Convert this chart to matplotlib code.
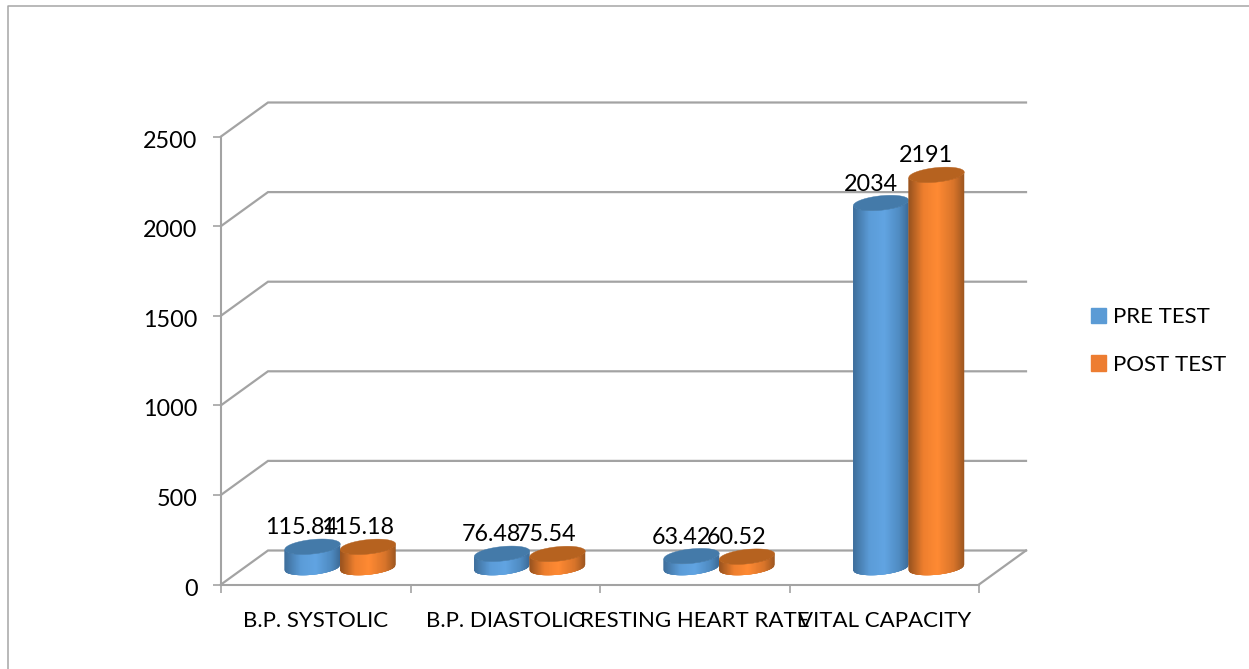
import numpy as np
from matplotlib import pyplot as plt
from matplotlib.collections import PolyCollection
from matplotlib.colors import LinearSegmentedColormap
from matplotlib.lines import Line2D
from matplotlib.patches import Patch, Polygon
from matplotlib.transforms import ScaledTranslation

plt.rcParams['font.family'] = ['Lato', 'DejaVu Sans']

categories = ["B.P. SYSTOLIC", "B.P. DIASTOLIC", "RESTING HEART RATE", "VITAL CAPACITY"]
pre_test = [115.84, 76.48, 63.42, 2034]
post_test = [115.18, 75.54, 60.52, 2191]
y_ticks = [0, 500, 1000, 1500, 2000, 2500]

W, H = 1249, 669
GREY = '#a3a3a3'
PX_X = 189.5      # pixels per category
PX_Y = 448 / 2500  # pixels per unit
DEPTH_X = 47 / PX_X
DEPTH_Y = 34 / PX_Y
BAR_W = 55.5 / PX_X

blue_map = LinearSegmentedColormap.from_list(
    'b', [(0, '#3c6a96'), (0.18, '#4f8bc2'), (0.45, '#61a4e2'), (0.72, '#5b9cd8'), (1, '#3f6f9c')])
orange_map = LinearSegmentedColormap.from_list(
    'o', [(0, '#9c5620'), (0.2, '#d8742a'), (0.5, '#ff8a33'), (0.75, '#ee7f2e'), (1, '#99531f')])


def ellipse_pts(cx, cy, t):
    # tilted ellipse, worked out in pixels then put back to data units
    a, b, th = 27.9, 7.2, np.radians(6)
    ex = a * np.cos(t)
    ey = b * np.sin(t)
    return cx + (ex * np.cos(th) - ey * np.sin(th)) / PX_X, cy + (ex * np.sin(th) + ey * np.cos(th)) / PX_Y


def cylinder(ax, x, value, cmap, cap, z):
    cx = x + DEPTH_X / 2 + 1 / PX_X
    base, top = DEPTH_Y / 2, value + DEPTH_Y / 2
    u = np.linspace(0, 1, 61)
    t = -np.arccos(1 - 2 * u)
    bx, by = ellipse_pts(cx, base, t)
    tx, ty = ellipse_pts(cx, top, t)
    strips, cols = [], []
    n = len(u) - 1
    for i in range(n):
        # each strip runs under the next few so no seams show
        j = min(i + 4, n)
        strips.append(list(zip(bx[i:j + 1], by[i:j + 1])) + list(zip(tx[i:j + 1][::-1], ty[i:j + 1][::-1])))
        cols.append(cmap((u[i] + u[i + 1]) / 2))
    ax.add_collection(PolyCollection(strips, facecolors=cols, edgecolors='none', zorder=z, clip_on=False))
    cx_pts, cy_pts = ellipse_pts(cx, top, np.linspace(0, 2 * np.pi, 80))
    ax.add_patch(Polygon(np.column_stack([cx_pts, cy_pts]), closed=True, facecolor=cap,
                         edgecolor=cap, linewidth=0.3, zorder=z + 0.1, clip_on=False))


def main():
    fig = plt.figure(figsize=(W / 100, H / 100), dpi=100)
    ax = fig.add_axes([221 / W, (H - 584.5) / H, 758 / W, 448 / H])
    ax.set_xlim(0, 4)
    ax.set_ylim(0, 2500)

    for s in ['top', 'right']:
        ax.spines[s].set_visible(False)
    for s in ['left', 'bottom']:
        ax.spines[s].set_color(GREY)
        ax.spines[s].set_linewidth(1.5)

    ax.set_yticks(y_ticks)
    ax.set_xticks(range(5))
    ax.set_xticklabels([])
    ax.set_xticks(np.arange(4) + 0.5, categories, minor=True)
    ax.tick_params(axis='y', length=6, width=1.2, color=GREY, labelsize=16.8, pad=11)
    ax.tick_params(axis='x', which='major', length=6, width=1.2, color=GREY)
    ax.tick_params(axis='x', which='minor', length=0, labelsize=16, pad=19)
    down = ScaledTranslation(0, -2.5 / 100, fig.dpi_scale_trans)
    for lab in ax.get_yticklabels():
        lab.set_transform(lab.get_transform() + down)

    # side and back walls
    for v in y_ticks:
        ax.plot([0, DEPTH_X, 4 + DEPTH_X], [v, v + DEPTH_Y, v + DEPTH_Y], color=GREY, lw=1.6,
                clip_on=False, zorder=1, solid_joinstyle='miter')
    ax.plot([4, 4 + DEPTH_X], [0, DEPTH_Y], color=GREY, lw=1.6, clip_on=False, zorder=1)

    for i in range(len(categories)):
        x_pre = i + 0.5 - BAR_W / 2
        x_post = i + 0.5 + BAR_W / 2
        cylinder(ax, x_pre, pre_test[i], blue_map, '#447aa9', 3)
        cylinder(ax, x_post, post_test[i], orange_map, '#b6621f', 4)
        for x, v in [(x_pre, pre_test[i]), (x_post, post_test[i])]:
            ax.annotate(str(v), xy=(x, v), xytext=(14, 36), textcoords='offset pixels',
                        ha='center', va='center', fontsize=16.8, color='black',
                        annotation_clip=False, zorder=6)

    handles = [Patch(color='#5b9bd5', label='PRE TEST'), Patch(color='#ed7d31', label='POST TEST')]
    fig.legend(handles=handles, loc='center left', bbox_to_anchor=(1091 / W, (H - 341) / H),
               frameon=False, fontsize=16, handlelength=0.68, handleheight=0.68,
               handletextpad=0.3, labelspacing=1.25, borderaxespad=0, borderpad=0)

    # outer frame, only left and top show
    fig.add_artist(Line2D([8 / W, 8 / W, 1], [0, (H - 6) / H, (H - 6) / H], color='#a6a6a6', lw=1.1))

    fig.savefig('out.png', dpi=100)


if __name__ == "__main__":
    main()
